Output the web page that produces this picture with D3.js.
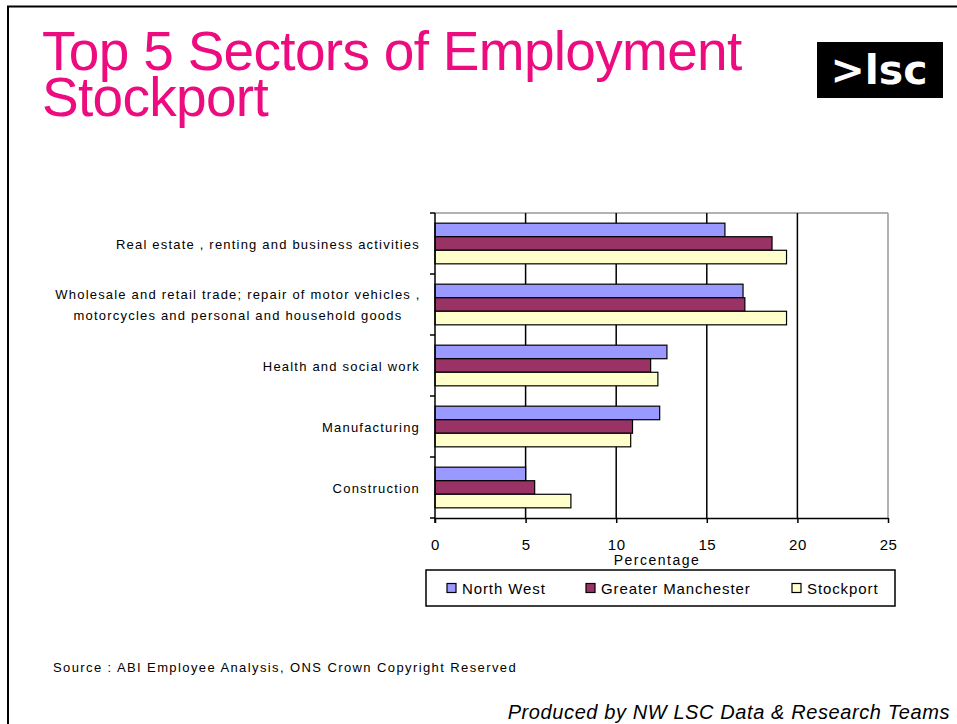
<!DOCTYPE html>
<html>
<head>
<meta charset="utf-8">
<script src="https://cdn.jsdelivr.net/npm/d3@7"></script>
<style>
  body { margin: 0; background: #fff; }
  text { font-family: "Liberation Sans", Arial, sans-serif; }
</style>
</head>
<body>
<div class="canvas"></div>
<script>
// chart data
const categories = [
  ['Real estate , renting and business activities'],
  ['Wholesale and retail trade; repair of motor vehicles ,', 'motorcycles and personal and household goods'],
  ['Health and social work'],
  ['Manufacturing'],
  ['Construction']
];
const seriesNames = ['North West', 'Greater Manchester', 'Stockport'];
const northWest = [16.0, 17.0, 12.8, 12.4, 5.0];
const greaterManchester = [18.6, 17.1, 11.9, 10.9, 5.5];
const stockport = [19.4, 19.4, 12.3, 10.8, 7.5];
const xTicks = [0, 5, 10, 15, 20, 25];

const colors = ['#9999ff', '#993366', '#ffffcc'];
const seriesValues = [northWest, greaterManchester, stockport];

const width = 957;
const height = 724;
const plot = {left: 435, right: 888, top: 213, bottom: 518};

const svg = d3.select('.canvas')
  .append('svg')
  .attr('width', width)
  .attr('height', height);

// slide frame
svg.append('line').attr('x1', 7).attr('x2', width).attr('y1', 6.5).attr('y2', 6.5)
  .attr('stroke', '#000').attr('stroke-width', 2);
svg.append('line').attr('x1', 8).attr('x2', 8).attr('y1', 6).attr('y2', height)
  .attr('stroke', '#000').attr('stroke-width', 2);

// title
const title = svg.append('text')
  .attr('fill', '#ec0c80')
  .style('font-size', '55px')
  .style('letter-spacing', '-0.7px');
title.append('tspan').attr('x', 42).attr('y', 70).text('Top 5 Sectors of Employment');
title.append('tspan').attr('x', 42).attr('y', 116).text('Stockport');

// logo
svg.append('rect').attr('x', 817).attr('y', 42).attr('width', 126).attr('height', 56).attr('fill', '#000');
svg.append('text')
  .attr('x', 879).attr('y', 84)
  .attr('text-anchor', 'middle')
  .attr('fill', '#fff')
  .style('font-family', '"DejaVu Sans", sans-serif')
  .style('font-weight', 'bold')
  .style('font-size', '41px')
  .text('>lsc');

// scales
const x = d3.scaleLinear()
  .domain([0, 25])
  .range([plot.left, plot.right]);

const y = d3.scaleBand()
  .domain(d3.range(categories.length))
  .range([plot.top, plot.bottom])
  .paddingInner(1 / 3)
  .paddingOuter(1 / 6);

const ySub = d3.scaleBand()
  .domain(d3.range(seriesNames.length))
  .range([0, y.bandwidth()]);

const step = y.step();

// plot border (grey top / right)
svg.append('line').attr('x1', plot.left).attr('x2', plot.right).attr('y1', plot.top).attr('y2', plot.top)
  .attr('stroke', '#999').attr('stroke-width', 1.5);
svg.append('line').attr('x1', plot.right).attr('x2', plot.right).attr('y1', plot.top).attr('y2', plot.bottom)
  .attr('stroke', '#999').attr('stroke-width', 1.5);

// gridlines
svg.append('g')
  .selectAll('line')
  .data(xTicks.slice(1, -1))
  .enter()
  .append('line')
  .attr('x1', d => x(d)).attr('x2', d => x(d))
  .attr('y1', plot.top).attr('y2', plot.bottom)
  .attr('stroke', '#000').attr('stroke-width', 1.5);

// bars
const groups = svg.append('g')
  .selectAll('g')
  .data(categories)
  .enter()
  .append('g')
  .attr('transform', (d, i) => `translate(0, ${y(i)})`);

groups.selectAll('rect')
  .data((d, i) => seriesValues.map((s, j) => ({series: j, value: s[i]})))
  .enter()
  .append('rect')
  .attr('x', x(0))
  .attr('y', d => ySub(d.series))
  .attr('width', d => x(d.value) - x(0))
  .attr('height', ySub.bandwidth())
  .attr('fill', d => colors[d.series])
  .attr('stroke', '#000')
  .attr('stroke-width', 1.2);

// x axis
const xAxis = d3.axisBottom(x).tickValues(xTicks).tickSize(5).tickSizeOuter(0);
const gX = svg.append('g')
  .attr('transform', `translate(0, ${plot.bottom})`)
  .call(xAxis);
gX.select('.domain').attr('stroke-width', 1.5);
gX.selectAll('.tick line').attr('stroke-width', 1.5);
gX.selectAll('text')
  .attr('y', 32)
  .attr('dy', 0)
  .style('font-size', '15px')
  .style('letter-spacing', '0.5px')
  .style('font-family', '"Liberation Sans", Arial, sans-serif')
  .attr('fill', '#000');

// y axis: line with ticks on category boundaries
svg.append('line')
  .attr('x1', plot.left).attr('x2', plot.left)
  .attr('y1', plot.top).attr('y2', plot.bottom + 5)
  .attr('stroke', '#000').attr('stroke-width', 1.5);
svg.append('g')
  .selectAll('line')
  .data(d3.range(categories.length + 1))
  .enter()
  .append('line')
  .attr('x1', plot.left - 5).attr('x2', plot.left)
  .attr('y1', d => plot.top + d * step).attr('y2', d => plot.top + d * step)
  .attr('stroke', '#000').attr('stroke-width', 1.5);

// category labels
const labels = svg.append('g')
  .selectAll('text')
  .data(categories)
  .enter()
  .append('text')
  .attr('text-anchor', 'end')
  .style('font-size', '13px')
  .style('letter-spacing', '1.2px')
  .attr('fill', '#000');

labels.each(function (lines, i) {
  const cy = y(i) + y.bandwidth() / 2;
  const el = d3.select(this);
  if (lines.length === 1) {
    el.append('tspan').attr('x', 420).attr('y', cy + 5).text(lines[0]);
  } else {
    el.attr('text-anchor', 'middle');
    lines.forEach((l, k) => {
      el.append('tspan')
        .attr('x', 238)
        .attr('y', cy + 5 + (k - (lines.length - 1) / 2) * 21)
        .text(l);
    });
  }
});

// axis title
svg.append('text')
  .attr('x', 657).attr('y', 565)
  .attr('text-anchor', 'middle')
  .style('font-size', '14px')
  .style('letter-spacing', '1.5px')
  .text('Percentage');

// legend
const legend = svg.append('g');
legend.append('rect')
  .attr('x', 426).attr('y', 570).attr('width', 469).attr('height', 36)
  .attr('fill', '#fff').attr('stroke', '#000').attr('stroke-width', 1.5);
const legendX = [447, 586, 792];
const items = legend.selectAll('g')
  .data(seriesNames)
  .enter()
  .append('g')
  .attr('transform', (d, i) => `translate(${legendX[i]}, 588)`);
items.append('rect')
  .attr('x', 0).attr('y', -4.5).attr('width', 9).attr('height', 9)
  .attr('fill', (d, i) => colors[i]).attr('stroke', '#000').attr('stroke-width', 1.2);
items.append('text')
  .attr('x', 15).attr('y', 5.5)
  .style('font-size', '15px')
  .style('letter-spacing', '0.9px')
  .text(d => d);

// footer
svg.append('text')
  .attr('x', 53).attr('y', 672)
  .style('font-size', '13px')
  .style('letter-spacing', '1.4px')
  .text('Source : ABI  Employee Analysis, ONS Crown Copyright Reserved');

svg.append('text')
  .attr('x', 950).attr('y', 719)
  .attr('text-anchor', 'end')
  .style('font-size', '20px')
  .style('font-style', 'italic')
  .style('letter-spacing', '0.6px')
  .text('Produced by NW LSC Data & Research Teams');
</script>
</body>
</html>
